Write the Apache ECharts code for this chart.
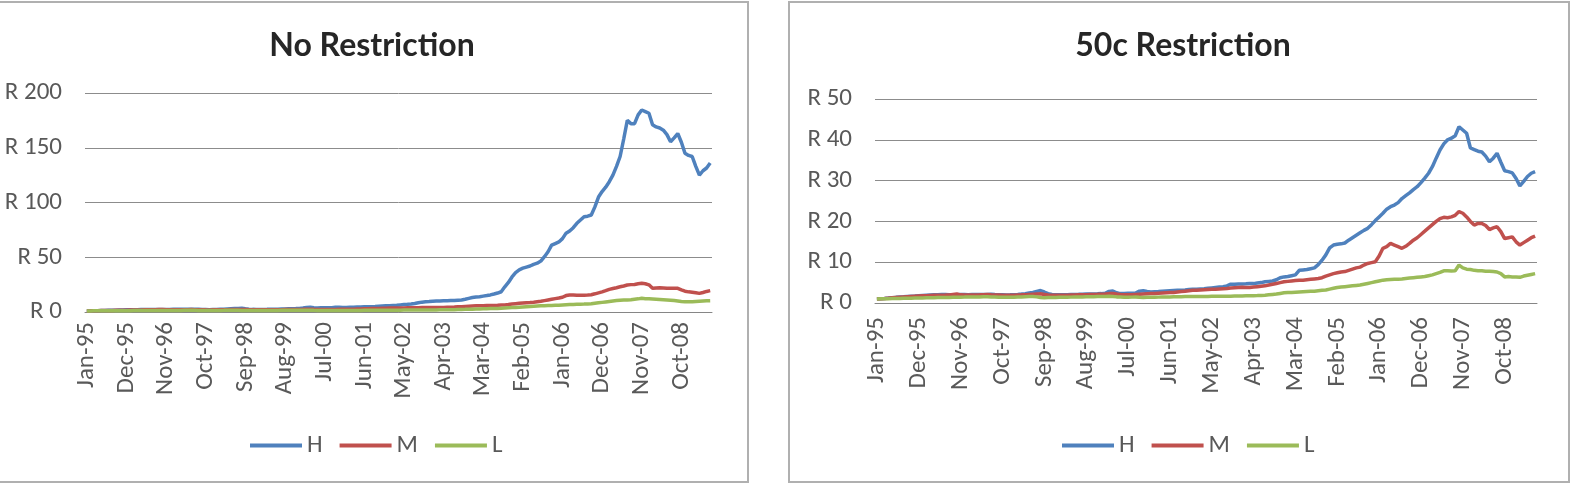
<!DOCTYPE html>
<html>
<head>
<meta charset="utf-8">
<script src="https://cdn.jsdelivr.net/npm/echarts@6/dist/echarts.min.js"></script>
<style>
  html, body { margin: 0; padding: 0; background: #fff; }
  #chart { width: 1572px; height: 486px; }
</style>
</head>
<body>
<div id="chart"></div>
<script>
// monthly categories Jan-95 .. Jun-09
const monthNames = ['Jan', 'Feb', 'Mar', 'Apr', 'May', 'Jun', 'Jul', 'Aug', 'Sep', 'Oct', 'Nov', 'Dec'];
const categories = [];
for (let y = 1995; y <= 2009; y++) {
  for (let m = 0; m < 12; m++) {
    if (y === 2009 && m > 5) break;
    categories.push(monthNames[m] + '-' + String(y).slice(2));
  }
}

const seriesNames = ['H', 'M', 'L'];

// No Restriction (one row per year)
const hNoRestriction = [
  1.00, 1.05, 1.12, 1.20, 1.30, 1.40, 1.50, 1.60, 1.70, 1.80, 1.90, 2.00,
  2.05, 2.10, 2.15, 2.20, 2.25, 2.30, 2.30, 2.25, 2.20, 2.25, 2.30, 2.35,
  2.40, 2.45, 2.50, 2.45, 2.40, 2.45, 2.50, 2.40, 2.30, 2.20, 2.10, 2.20,
  2.30, 2.40, 2.50, 2.70, 2.90, 3.10, 3.30, 3.50, 3.00, 2.60, 2.40, 2.30,
  2.30, 2.35, 2.40, 2.50, 2.55, 2.60, 2.70, 2.80, 2.90, 3.00, 3.10, 3.30,
  3.60, 4.20, 4.40, 3.90, 3.70, 3.80, 3.90, 3.85, 3.90, 4.30, 4.40, 4.10,
  4.20, 4.30, 4.40, 4.50, 4.60, 4.70, 4.80, 4.90, 5.00, 5.20, 5.40, 5.60,
  5.80, 6.00, 6.20, 6.50, 6.80, 7.00, 7.30, 7.80, 8.40, 9.00, 9.30, 9.50,
  9.80, 10.00, 10.10, 10.20, 10.30, 10.50, 10.60, 10.80, 11.00, 11.60, 12.40, 13.20,
  13.60, 14.00, 14.50, 15.00, 15.60, 16.40, 17.30, 18.50, 23.00, 27.00, 32.00, 36.00,
  38.50, 40.00, 41.00, 42.00, 43.50, 44.60, 46.50, 50.50, 55.00, 61.00, 62.50, 64.00,
  67.00, 72.00, 74.00, 77.00, 81.00, 84.00, 87.00, 87.50, 88.60, 96.00, 105.00, 110.00,
  114.00, 119.00, 125.00, 133.00, 142.00, 158.00, 175.00, 172.00, 172.00, 180.00, 184.50, 183.00,
  181.50, 171.00, 169.00, 168.00, 166.00, 162.00, 155.50, 159.00, 163.00, 155.00, 145.00, 143.00,
  142.00, 133.00, 125.00, 129.00, 131.50, 136.00
];
const mNoRestriction = [
  1.00, 1.04, 1.10, 1.18, 1.26, 1.34, 1.40, 1.46, 1.52, 1.58, 1.64, 1.70,
  1.76, 1.82, 1.88, 1.92, 1.96, 2.00, 2.02, 2.06, 2.20, 2.30, 2.10, 2.05,
  2.04, 2.06, 2.08, 2.10, 2.15, 2.20, 2.10, 2.05, 2.00, 1.96, 1.94, 1.96,
  1.98, 2.02, 2.06, 2.12, 2.18, 2.24, 2.30, 2.35, 2.20, 2.05, 1.98, 1.96,
  1.96, 1.98, 2.00, 2.04, 2.08, 2.10, 2.14, 2.18, 2.22, 2.26, 2.30, 2.34,
  2.40, 2.50, 2.55, 2.40, 2.30, 2.25, 2.20, 2.25, 2.30, 2.35, 2.40, 2.45,
  2.50, 2.55, 2.60, 2.70, 2.80, 2.90, 3.00, 3.10, 3.20, 3.30, 3.40, 3.50,
  3.55, 3.60, 3.65, 3.70, 3.75, 3.80, 3.85, 3.90, 3.95, 4.00, 4.05, 4.10,
  4.15, 4.10, 4.10, 4.20, 4.30, 4.40, 4.50, 4.70, 4.90, 5.10, 5.30, 5.50,
  5.60, 5.70, 5.80, 5.90, 5.90, 6.00, 6.10, 6.30, 6.50, 6.80, 7.30, 7.60,
  7.90, 8.20, 8.50, 8.70, 9.00, 9.40, 9.80, 10.40, 11.00, 11.60, 12.20, 12.80,
  13.50, 15.00, 15.50, 15.50, 15.30, 15.20, 15.40, 15.50, 15.80, 16.60, 17.50, 18.40,
  19.50, 20.70, 21.50, 22.20, 23.00, 23.80, 24.70, 25.00, 25.20, 25.80, 26.20, 25.80,
  24.80, 21.60, 22.00, 22.20, 22.00, 21.80, 21.60, 21.80, 21.60, 20.20, 19.00, 18.40,
  18.00, 17.50, 17.00, 17.80, 18.80, 19.50
];
const lNoRestriction = [
  1.00, 1.02, 1.04, 1.06, 1.08, 1.10, 1.12, 1.14, 1.16, 1.18, 1.20, 1.22,
  1.24, 1.26, 1.28, 1.30, 1.32, 1.34, 1.35, 1.36, 1.38, 1.40, 1.42, 1.44,
  1.45, 1.46, 1.48, 1.50, 1.52, 1.54, 1.50, 1.46, 1.42, 1.40, 1.38, 1.40,
  1.42, 1.46, 1.50, 1.55, 1.60, 1.62, 1.50, 1.35, 1.30, 1.32, 1.34, 1.36,
  1.38, 1.40, 1.42, 1.44, 1.46, 1.48, 1.50, 1.52, 1.54, 1.56, 1.58, 1.60,
  1.62, 1.64, 1.60, 1.50, 1.45, 1.40, 1.42, 1.44, 1.46, 1.40, 1.35, 1.38,
  1.40, 1.42, 1.44, 1.46, 1.48, 1.50, 1.52, 1.54, 1.56, 1.58, 1.60, 1.62,
  1.64, 1.66, 1.68, 1.70, 1.72, 1.74, 1.76, 1.78, 1.80, 1.82, 1.84, 1.86,
  1.90, 1.94, 1.98, 2.02, 2.06, 2.10, 2.16, 2.24, 2.32, 2.40, 2.50, 2.60,
  2.70, 2.80, 2.90, 3.00, 3.10, 3.20, 3.30, 3.40, 3.60, 3.80, 4.00, 4.20,
  4.40, 4.60, 4.80, 5.00, 5.20, 5.40, 5.60, 5.80, 5.90, 6.00, 6.10, 6.20,
  6.40, 6.60, 6.80, 6.90, 7.00, 7.10, 7.20, 7.40, 7.60, 8.00, 8.40, 8.80,
  9.20, 9.60, 10.00, 10.40, 10.80, 11.00, 11.00, 11.20, 11.60, 12.00, 12.50, 12.20,
  12.00, 11.80, 11.60, 11.40, 11.20, 11.00, 10.80, 10.40, 10.00, 9.60, 9.40, 9.30,
  9.40, 9.60, 9.80, 10.00, 10.20, 10.30
];

// 50c Restriction
const h50c = [
  1.00, 1.05, 1.12, 1.20, 1.30, 1.38, 1.45, 1.52, 1.60, 1.66, 1.72, 1.80,
  1.86, 1.92, 1.98, 2.02, 2.05, 2.08, 2.06, 2.04, 2.02, 2.05, 2.08, 2.06,
  2.04, 2.07, 2.10, 2.08, 2.06, 2.10, 2.12, 2.08, 2.05, 2.02, 1.98, 2.00,
  2.04, 2.10, 2.18, 2.30, 2.45, 2.60, 2.85, 3.05, 2.70, 2.30, 2.10, 2.05,
  2.02, 2.00, 2.04, 2.08, 2.10, 2.12, 2.15, 2.18, 2.20, 2.22, 2.25, 2.30,
  2.40, 2.85, 2.95, 2.50, 2.30, 2.35, 2.40, 2.38, 2.42, 2.90, 3.00, 2.80,
  2.70, 2.75, 2.80, 2.90, 2.95, 3.00, 3.05, 3.10, 3.15, 3.20, 3.30, 3.35,
  3.40, 3.45, 3.50, 3.60, 3.70, 3.80, 3.90, 4.00, 4.20, 4.60, 4.60, 4.65,
  4.65, 4.70, 4.80, 4.75, 4.90, 5.00, 5.20, 5.30, 5.40, 5.70, 6.20, 6.40,
  6.50, 6.70, 6.90, 8.00, 8.10, 8.20, 8.40, 8.60, 9.40, 10.50, 11.80, 13.50,
  14.20, 14.40, 14.50, 14.70, 15.40, 16.00, 16.60, 17.20, 17.80, 18.30, 19.20, 20.20,
  21.10, 22.00, 23.00, 23.60, 24.00, 24.60, 25.60, 26.30, 27.00, 27.80, 28.50, 29.50,
  30.60, 31.80, 33.40, 35.50, 37.50, 39.00, 40.00, 40.40, 41.00, 43.20, 42.40, 41.60,
  38.00, 37.60, 37.20, 37.00, 36.00, 34.60, 35.50, 36.70, 34.50, 32.40, 32.20, 31.90,
  30.50, 28.70, 29.80, 31.00, 31.80, 32.20
];
const m50c = [
  1.00, 1.04, 1.10, 1.18, 1.26, 1.34, 1.40, 1.46, 1.52, 1.58, 1.64, 1.70,
  1.75, 1.80, 1.85, 1.88, 1.90, 1.92, 1.94, 1.98, 2.10, 2.20, 2.00, 1.95,
  1.94, 1.96, 1.98, 2.00, 2.05, 2.10, 2.00, 1.96, 1.94, 1.90, 1.88, 1.90,
  1.92, 1.96, 2.00, 2.05, 2.10, 2.15, 2.20, 2.25, 2.10, 1.95, 1.90, 1.88,
  1.88, 1.90, 1.92, 1.95, 1.98, 2.00, 2.02, 2.05, 2.08, 2.10, 2.12, 2.15,
  2.20, 2.30, 2.35, 2.20, 2.10, 2.05, 2.00, 2.05, 2.10, 2.15, 2.20, 2.25,
  2.30, 2.35, 2.40, 2.45, 2.50, 2.55, 2.60, 2.70, 2.80, 2.90, 3.00, 3.10,
  3.15, 3.20, 3.25, 3.30, 3.35, 3.40, 3.45, 3.50, 3.55, 3.65, 3.75, 3.80,
  3.85, 3.80, 3.80, 3.90, 4.00, 4.10, 4.20, 4.40, 4.60, 4.80, 5.00, 5.20,
  5.30, 5.40, 5.50, 5.60, 5.60, 5.70, 5.80, 5.90, 6.00, 6.20, 6.60, 6.90,
  7.20, 7.40, 7.60, 7.70, 8.00, 8.30, 8.60, 8.80, 9.30, 9.70, 9.90, 10.10,
  11.50, 13.40, 13.80, 14.60, 14.20, 13.80, 13.40, 13.90, 14.60, 15.40, 16.00, 16.80,
  17.60, 18.40, 19.20, 20.00, 20.70, 21.00, 20.90, 21.10, 21.50, 22.40, 22.00, 21.10,
  20.00, 19.10, 19.50, 19.50, 19.00, 18.00, 18.40, 18.70, 17.50, 15.80, 16.00, 16.20,
  15.00, 14.20, 14.80, 15.40, 16.00, 16.40
];
const l50c = [
  1.00, 1.02, 1.04, 1.06, 1.08, 1.10, 1.12, 1.14, 1.16, 1.18, 1.20, 1.22,
  1.24, 1.26, 1.28, 1.30, 1.32, 1.34, 1.35, 1.36, 1.38, 1.40, 1.42, 1.44,
  1.45, 1.46, 1.48, 1.50, 1.52, 1.54, 1.50, 1.46, 1.42, 1.40, 1.38, 1.40,
  1.42, 1.46, 1.50, 1.55, 1.60, 1.62, 1.50, 1.35, 1.30, 1.32, 1.34, 1.36,
  1.38, 1.40, 1.42, 1.44, 1.46, 1.48, 1.50, 1.52, 1.54, 1.56, 1.58, 1.60,
  1.62, 1.64, 1.60, 1.50, 1.45, 1.40, 1.42, 1.44, 1.46, 1.40, 1.35, 1.38,
  1.40, 1.42, 1.44, 1.46, 1.48, 1.50, 1.52, 1.54, 1.56, 1.58, 1.60, 1.60,
  1.60, 1.60, 1.62, 1.62, 1.64, 1.64, 1.64, 1.65, 1.66, 1.68, 1.70, 1.72,
  1.74, 1.76, 1.78, 1.80, 1.82, 1.85, 1.90, 2.00, 2.10, 2.20, 2.35, 2.50,
  2.55, 2.60, 2.65, 2.70, 2.75, 2.80, 2.85, 2.90, 3.00, 3.10, 3.20, 3.40,
  3.60, 3.80, 3.90, 4.00, 4.10, 4.20, 4.30, 4.40, 4.60, 4.80, 5.00, 5.20,
  5.40, 5.60, 5.70, 5.75, 5.80, 5.85, 5.90, 6.00, 6.10, 6.20, 6.30, 6.40,
  6.50, 6.70, 6.90, 7.20, 7.50, 7.90, 7.90, 7.85, 7.90, 9.30, 8.60, 8.30,
  8.20, 8.00, 7.90, 7.90, 7.80, 7.80, 7.70, 7.60, 7.20, 6.40, 6.50, 6.40,
  6.40, 6.30, 6.60, 6.80, 7.00, 7.20
];

const colors = ['#4F81BD', '#C0504D', '#9BBB59'];
const labelFont = "Carlito, Lato, sans-serif";
const labelColor = '#595959';

const chart = echarts.init(document.getElementById('chart'));

function xAxisFor(gridIndex, margin) {
  return {
    type: 'category',
    gridIndex: gridIndex,
    data: categories,
    boundaryGap: true,
    axisTick: { show: false },
    axisLine: { lineStyle: { color: '#868686', width: 1 } },
    axisLabel: {
      interval: 10,
      rotate: 90,
      margin: margin,
      fontSize: 25,
      fontFamily: labelFont,
      color: labelColor
    }
  };
}

function yAxisFor(gridIndex, max, step) {
  return {
    type: 'value',
    gridIndex: gridIndex,
    min: 0,
    max: max,
    interval: step,
    axisLine: { show: false },
    axisTick: { show: false },
    axisLabel: {
      formatter: v => 'R ' + v,
      margin: 23,
      fontSize: 25,
      fontFamily: labelFont,
      color: labelColor
    },
    splitLine: { lineStyle: { color: '#8c8c8c', width: 1 } }
  };
}

function lineSeries(name, data, idx, color) {
  return {
    name: name,
    type: 'line',
    xAxisIndex: idx,
    yAxisIndex: idx,
    data: data,
    symbol: 'none',
    color: color,
    lineStyle: { width: 3.5, color: color },
    animation: false
  };
}

const legendBase = {
  data: seriesNames,
  top: 428,
  icon: 'rect',
  itemWidth: 52,
  itemHeight: 4,
  itemGap: 17,
  textStyle: { fontSize: 25, fontFamily: labelFont, color: labelColor }
};

const option = {
  animation: false,
  backgroundColor: '#fff',
  color: colors,
  title: [
    {
      text: 'No Restriction',
      left: 367,
      top: 25,
      textAlign: 'center',
      textStyle: { fontSize: 32, fontWeight: 'bold', fontFamily: 'Lato, sans-serif', color: '#262626' }
    },
    {
      text: '50c Restriction',
      left: 1178,
      top: 25,
      textAlign: 'center',
      textStyle: { fontSize: 32, fontWeight: 'bold', fontFamily: 'Lato, sans-serif', color: '#262626' }
    }
  ],
  legend: [
    Object.assign({}, legendBase, { left: 245 }),
    Object.assign({}, legendBase, { left: 1057 })
  ],
  grid: [
    { left: 85, right: 860, top: 93, bottom: 174 },
    { left: 875, right: 35, top: 99, bottom: 183 }
  ],
  xAxis: [xAxisFor(0, 10), xAxisFor(1, 14)],
  yAxis: [yAxisFor(0, 200, 50), yAxisFor(1, 50, 10)],
  series: [
    lineSeries('H', hNoRestriction, 0, colors[0]),
    lineSeries('M', mNoRestriction, 0, colors[1]),
    lineSeries('L', lNoRestriction, 0, colors[2]),
    lineSeries('H', h50c, 1, colors[0]),
    lineSeries('M', m50c, 1, colors[1]),
    lineSeries('L', l50c, 1, colors[2])
  ],
  graphic: [
    { type: 'rect', shape: { x: -2, y: 2, width: 750, height: 480 }, style: { fill: 'none', stroke: '#b0b0b0', lineWidth: 2 }, silent: true },
    { type: 'rect', shape: { x: 789, y: 2, width: 780, height: 480 }, style: { fill: 'none', stroke: '#b0b0b0', lineWidth: 2 }, silent: true }
  ]
};

chart.setOption(option);
</script>
</body>
</html>
